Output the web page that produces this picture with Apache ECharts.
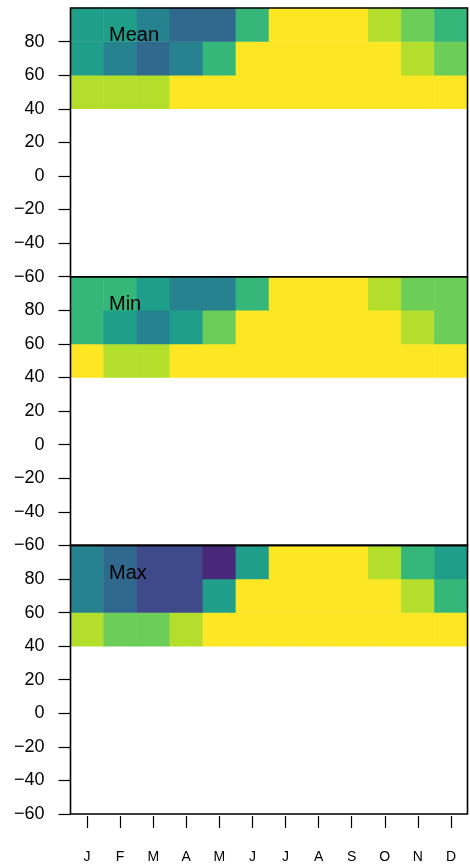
<!DOCTYPE html>
<html>
<head>
<meta charset="utf-8">
<script src="https://cdn.jsdelivr.net/npm/echarts@6/dist/echarts.min.js"></script>
<style>html,body{margin:0;padding:0;background:#fff}#c{width:470px;height:864px}</style>
</head>
<body>
<div id="c"></div>
<script>
// ---- data ----
var months = ['J','F','M','A','M','J','J','A','S','O','N','D'];
var latBands = ['-60','-40','-20','0','20','40','60','80']; // lower edge of each 20° band
var yTicks = [-60,-40,-20,0,20,40,60,80];
var panelNames = ['Mean','Min','Max'];
var viridis10 = ['#440154','#482878','#3E4A89','#31688E','#26828E','#1F9E89','#35B779','#6DCD59','#B4DE2C','#FDE725'];

// class index per month, for bands 40-60, 60-80, 80-100
var meanRow40 = [8,8,8,9,9,9,9,9,9,9,9,9];
var meanRow60 = [5,4,3,4,6,9,9,9,9,9,8,7];
var meanRow80 = [5,5,4,3,3,6,9,9,9,8,7,6];
var minRow40  = [9,8,8,9,9,9,9,9,9,9,9,9];
var minRow60  = [6,5,4,5,7,9,9,9,9,9,8,7];
var minRow80  = [6,6,5,4,4,6,9,9,9,8,7,7];
var maxRow40  = [8,7,7,8,9,9,9,9,9,9,9,9];
var maxRow60  = [4,3,2,2,5,9,9,9,9,9,8,6];
var maxRow80  = [4,3,2,2,1,5,9,9,9,8,6,5];

var panels = [
  [meanRow40, meanRow60, meanRow80],
  [minRow40, minRow60, minRow80],
  [maxRow40, maxRow60, maxRow80]
];

// ---- build option ----
var FONT = 'Liberation Sans, Arial, Helvetica, sans-serif';
var L = 70.5, R = 2.5, TOP = 8, H = 268.7;
var grids = [], xAxes = [], yAxes = [], series = [], graphics = [];
function fmt(v){ return v < 0 ? '\u2212' + Math.abs(v) : String(v); }

panels.forEach(function(rows, p){
  var top = TOP + p * H;
  grids.push({left: L, right: R, top: top, height: H, show: true, z: 5,
    borderColor: '#000', borderWidth: 1.6, backgroundColor: 'transparent'});
  var isBottom = p === panels.length - 1;
  xAxes.push({type: 'category', gridIndex: p, data: months, position: 'bottom',
    offset: 2,
    axisLine: {show: false, onZero: false},
    axisTick: {show: isBottom, alignWithLabel: true, length: 12, lineStyle: {color: '#000', width: 1.2}},
    axisLabel: {show: isBottom, margin: 34, fontSize: 14, color: '#000', fontFamily: FONT},
    splitLine: {show: false}});
  yAxes.push({type: 'value', gridIndex: p, min: -60, max: 100, interval: 20,
    axisLine: {show: false, onZero: false},
    axisTick: {show: true, length: 12, customValues: yTicks, lineStyle: {color: '#000', width: 1.2}},
    axisLabel: {show: true, customValues: yTicks, formatter: fmt, margin: 26, fontSize: 18, color: '#000', fontFamily: FONT},
    splitLine: {show: false}});
  var data = [];
  rows.forEach(function(row, r){
    row.forEach(function(v, m){ data.push([m, 5 + r, v]); });
  });
  series.push({type: 'heatmap', xAxisIndex: p, yAxisIndex: 3 + p, data: data, z: 2,
    itemStyle: {borderWidth: 0}, emphasis: {disabled: true}, progressive: 0});
  graphics.push({type: 'text', left: 109, top: top + 25.7 - 8, z: 20,
    style: {text: panelNames[p], fontSize: 20, fontFamily: FONT, fill: '#000'}});
});
panels.forEach(function(rows, p){
  yAxes.push({type: 'category', gridIndex: p, data: latBands, show: false});
});

var pieces = viridis10.map(function(c, i){ return {value: i, color: c}; });

var chart = echarts.init(document.getElementById('c'), null, {renderer: 'canvas'});
chart.setOption({
  animation: false,
  backgroundColor: '#fff',
  grid: grids,
  xAxis: xAxes,
  yAxis: yAxes,
  visualMap: {type: 'piecewise', show: false, pieces: pieces, seriesIndex: [0,1,2], dimension: 2},
  series: series,
  graphic: graphics
});
</script>
</body>
</html>
